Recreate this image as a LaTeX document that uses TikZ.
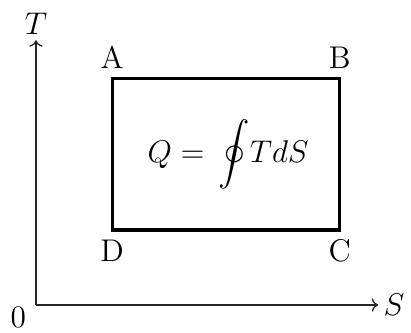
\documentclass[tikz,border=0pt]{standalone}
\usepackage{amsmath}
\usepackage{amssymb}
\usetikzlibrary{positioning, arrows.meta}
\tikzset{
	axis/.style={->, semithick, black!85},
	cycleline/.style={draw, line width=1.4pt},
	corner/.style={font=\Large}
}
\begin{document}
\begin{tikzpicture}
	\useasboundingbox (-0.58,-0.45) rectangle (6.05,4.92);
	
	\coordinate (O) at (0,0);
	\coordinate (Tend) at (0,4.27);
	\coordinate (Send) at (5.52,0);
	\draw[axis] (O) -- (Tend);
	\draw[axis] (O) -- (Send);
	\node[corner, above=-1pt of Tend] (tlab) {$T$};
	\node[corner, right=-1pt of Send] (slab) {$S$};
	\node[corner, below left=-3pt and 1pt of O] (olab) {0};
	
	\coordinate (A) at (1.23,3.65);
	\coordinate (B) at (4.9,3.65);
	\coordinate (C) at (4.9,1.21);
	\coordinate (D) at (1.23,1.21);
	\draw[cycleline] (A) -- (B) -- (C) -- (D) -- cycle;
	\node[corner, above=1pt of A] (alab) {A};
	\node[corner, above=1pt of B] (blab) {B};
	\node[corner, below=1pt of C] (clab) {C};
	\node[corner, below=1pt of D] (dlab) {D};
	
	\node[font=\Large] (heat) at (3.1,2.43) {$Q=\,\displaystyle\oint\!TdS$};
\end{tikzpicture}
\end{document}
